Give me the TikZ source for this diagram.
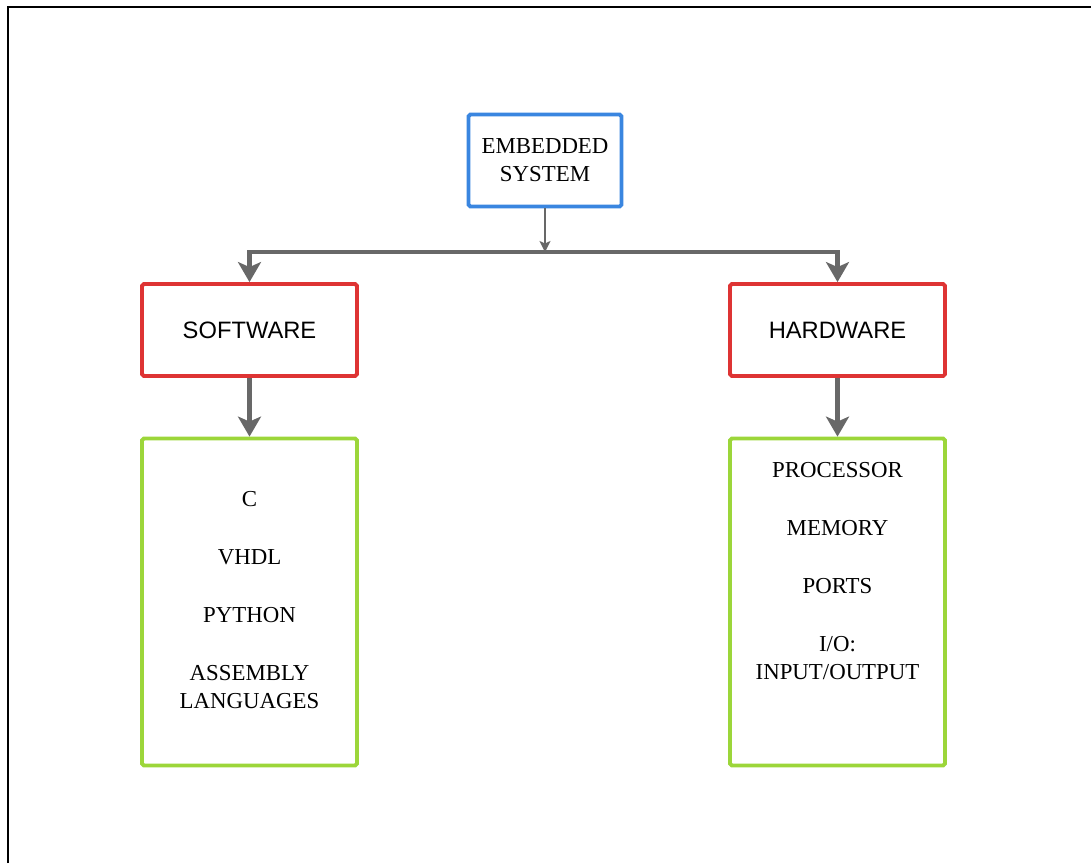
\documentclass[tikz,border=0pt]{standalone}
\usepackage{fontspec}
\setmainfont{Liberation Serif}
\newfontfamily\arialfont{Liberation Sans}
\usetikzlibrary{arrows.meta, positioning}
\definecolor{boxblue}{RGB}{58,134,224}
\definecolor{boxred}{RGB}{222,52,52}
\definecolor{boxgreen}{RGB}{156,214,58}
\definecolor{arrowgray}{RGB}{104,104,104}

\begin{document}
\begin{tikzpicture} [x = 0.02cm, y = -0.02cm,
  topbox/.style = {draw = boxblue, line width = 2.2pt, rounded corners = 1pt, minimum width = 3.06cm, minimum height = 1.84cm, align = center, font = \fontsize{13}{16}\selectfont},
  partbox/.style = {draw = boxred, line width = 2.2pt, rounded corners = 1pt, minimum width = 4.3cm, minimum height = 1.84cm, font = \arialfont\fontsize{13.5}{16}\selectfont},
  listbox/.style = {draw = boxgreen, line width = 2.2pt, rounded corners = 1pt, minimum width = 4.3cm, minimum height = 6.54cm},
  listtext/.style = {align = center, font = \fontsize{13}{15.9}\selectfont},
  bigarrow/.style = {draw = arrowgray, line width = 2.6pt, -{Stealth[length = 0.4cm, width = 0.46cm, inset = 0.1cm]}},
  smallarrow/.style = {draw = arrowgray, line width = 1pt, -{Stealth[length = 0.22cm, width = 0.22cm, inset = 0.05cm]}}]
\useasboundingbox (0,0) rectangle (1091,863);
% frame
\draw [line width = 1.6pt] (8,863) -- (8,7) -- (1091,7);
% boxes
\node[topbox] (emb) at (545,160.5) {EMBEDDED\\SYSTEM};
\node[partbox] (soft) at (249.5,330) {SOFTWARE};
\node[partbox] (hard) at (837.5,330) {HARDWARE};
\node[listbox] (softlist) at (249.5,602) {};
\node[listbox] (hardlist) at (837.5,602) {};
\node[listtext] (langs) at (249.5,600) {C\\[17pt]VHDL\\[17pt]PYTHON\\[17pt]ASSEMBLY\\LANGUAGES};
\node[listtext] (parts) at (837.5,571) {PROCESSOR\\[17pt]MEMORY\\[17pt]PORTS\\[17pt]I/O:\\INPUT/OUTPUT};
% connectors
\coordinate (bar) at (545,252);
\draw [smallarrow] (emb) -- (bar);
\draw [bigarrow] (bar) -| (soft);
\draw [bigarrow] (bar) -| (hard);
\draw [bigarrow] (soft) -- (softlist);
\draw [bigarrow] (hard) -- (hardlist);
\end{tikzpicture}
\end{document}
